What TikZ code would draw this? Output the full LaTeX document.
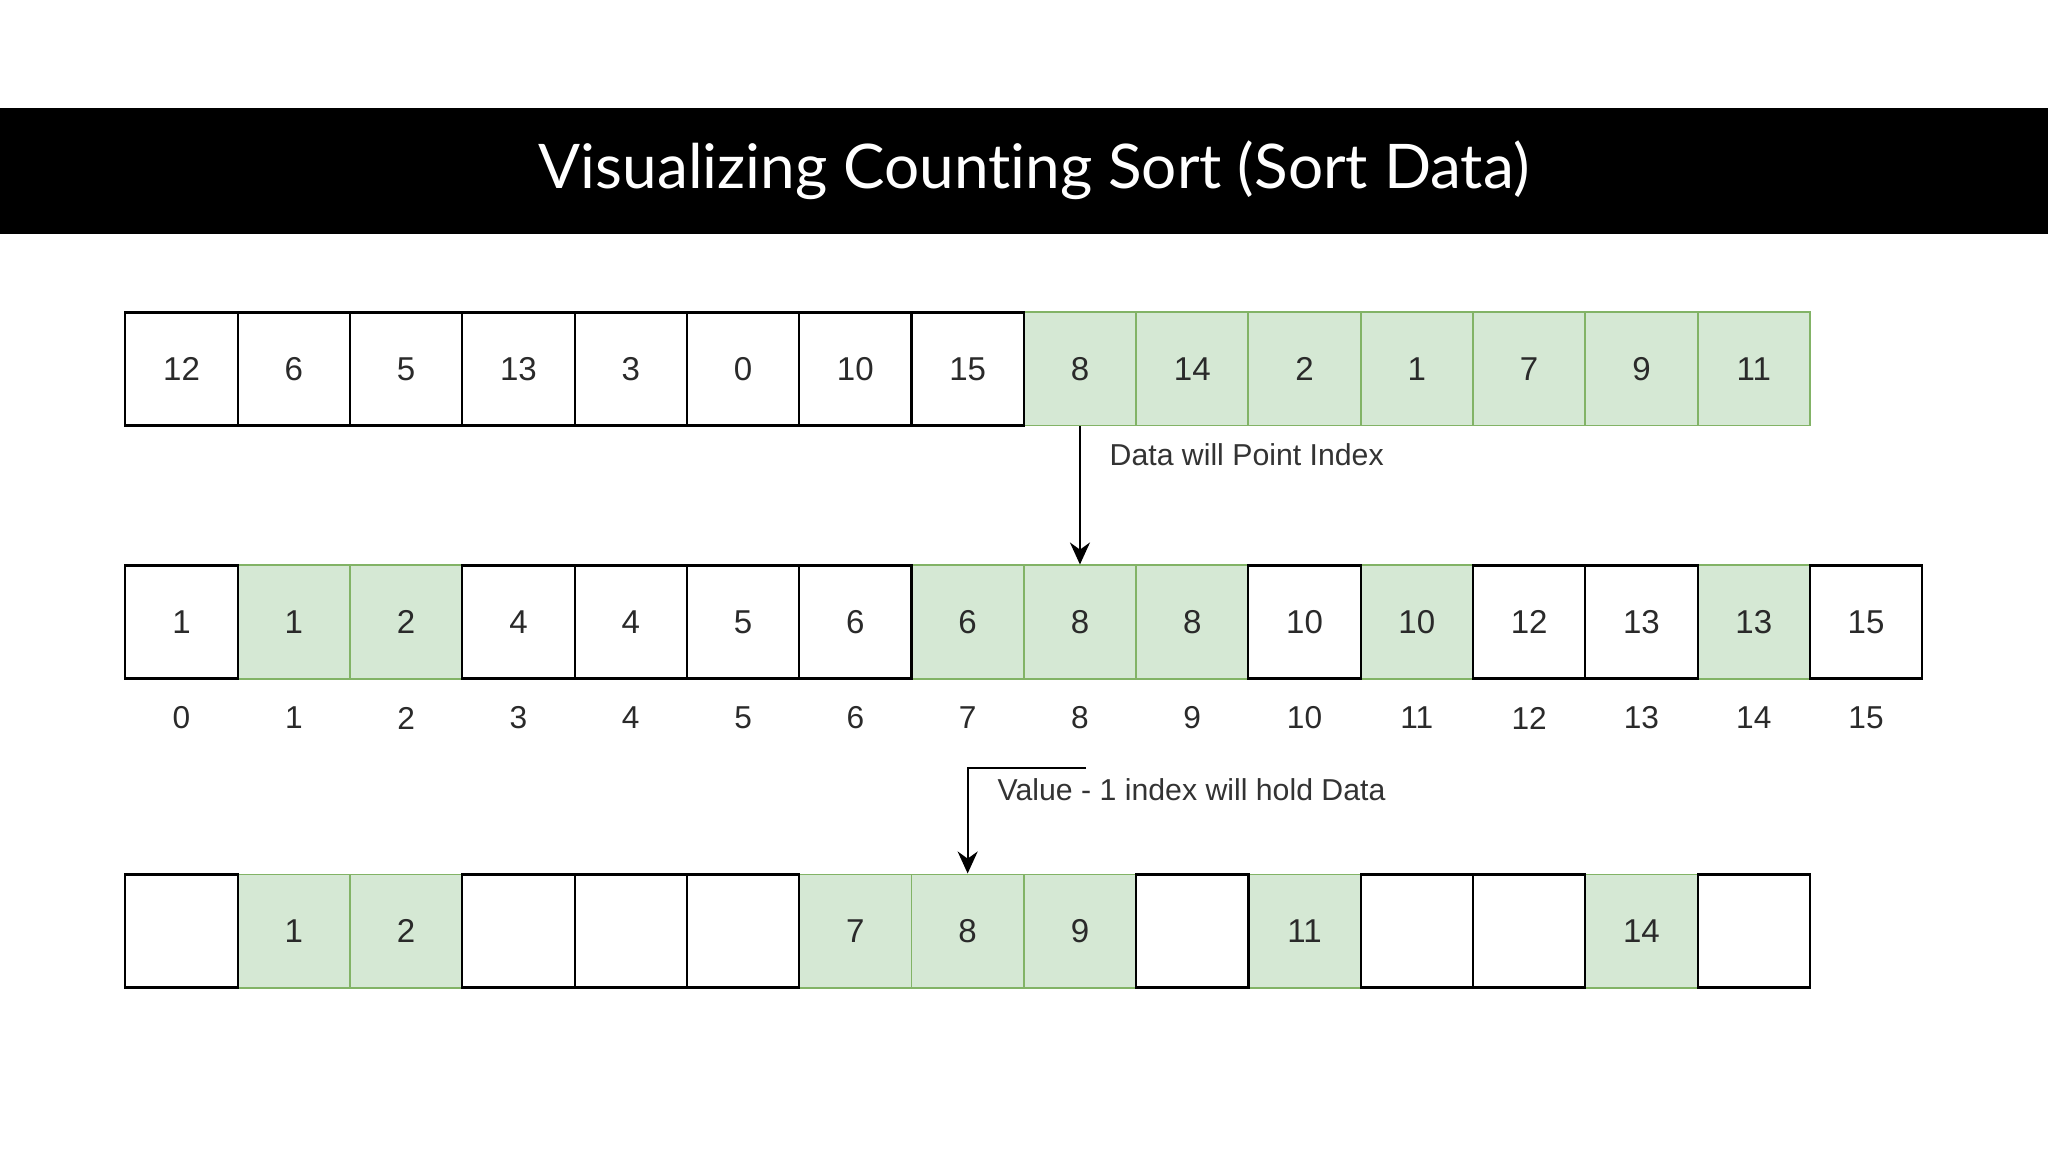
\documentclass[tikz,border=0pt]{standalone}
\usepackage{fontspec}
\setmainfont{Liberation Sans}
\newfontfamily\titlefont[Ligatures=NoCommon]{Lato}
\usetikzlibrary{arrows.meta}
\definecolor{gfill}{HTML}{D5E8D4}
\definecolor{gline}{HTML}{82B366}
\definecolor{txt}{HTML}{2A2A2A}
\definecolor{note}{HTML}{333333}
\tikzset{
  cellbase/.style={minimum width=1.123cm, minimum height=1.13cm, inner sep=0pt, anchor=center,
    font=\fontsize{9.4pt}{11pt}\selectfont, text=txt},
  whitecell/.style={cellbase, draw=black, fill=white, line width=0.6pt},
  greencell/.style={cellbase, draw=gline, fill=gfill, line width=0.55pt},
  idxlabel/.style={font=\fontsize{9pt}{11pt}\selectfont, text=txt, inner sep=0pt},
  notelabel/.style={font=\fontsize{8.6pt}{10pt}\selectfont, text=note, inner sep=0pt, anchor=west},
  conn/.style={line width=0.65pt, draw=black, -{Stealth[length=0.22cm, width=0.2cm]}}
}
\begin{document}
\begin{tikzpicture}[x=0.01cm, y=-0.01cm]
\useasboundingbox (0,0) rectangle (2048,1152);
\fill[white] (0,0) rectangle (2048,1152);
% title bar
\fill[black] (0,108) rectangle (2048,234);
\node[text=white, inner sep=0pt] (title) at (1034,170)
  {\resizebox{9.9cm}{\height}{\titlefont\fontsize{17.5pt}{20pt}\selectfont Visualizing Counting Sort (Sort Data)}};
% row 1
\foreach \v [count=\i from 0] in {12,6,5,13,3,0,10,15,8,14,2,1,7,9,11} {
  \ifnum\i>7
    \node[greencell] (r1c\i) at ({125.4+(\i+0.5)*112.3},369) {\v};
  \fi
}
\foreach \v [count=\i from 0] in {12,6,5,13,3,0,10,15} {
  \node[whitecell] (r1c\i) at ({125.4+(\i+0.5)*112.3},369) {\v};
}
% row 2
\foreach \v/\g [count=\i from 0] in {1/0,1/1,2/1,4/0,4/0,5/0,6/0,6/1,8/1,8/1,10/0,10/1,12/0,13/0,13/1,15/0} {
  \ifnum\g=1
    \node[greencell] (r2c\i) at ({125.4+(\i+0.5)*112.3},622) {\v};
  \fi
}
\foreach \v/\g [count=\i from 0] in {1/0,1/1,2/1,4/0,4/0,5/0,6/0,6/1,8/1,8/1,10/0,10/1,12/0,13/0,13/1,15/0} {
  \ifnum\g=0
    \node[whitecell] (r2c\i) at ({125.4+(\i+0.5)*112.3},622) {\v};
  \fi
}
% index labels
\foreach \i in {0,...,15} {
  \node[idxlabel] (idx\i) at ({125.4+(\i+0.5)*112.3},718) {\i};
}
% row 3
\foreach \v/\g [count=\i from 0] in {/0,1/1,2/1,/0,/0,/0,7/1,8/1,9/1,/0,11/1,/0,/0,14/1,/0} {
  \ifnum\g=1
    \node[greencell] (r3c\i) at ({125.4+(\i+0.5)*112.3},931) {\v};
  \fi
}
\foreach \v/\g [count=\i from 0] in {/0,1/1,2/1,/0,/0,/0,7/1,8/1,9/1,/0,11/1,/0,/0,14/1,/0} {
  \ifnum\g=0
    \node[whitecell] (r3c\i) at ({125.4+(\i+0.5)*112.3},931) {\v};
  \fi
}
% connectors
\draw[conn] (r1c8.south) -- (r2c8.north);
\node[notelabel] (note1) at (1109,455) {Data will Point Index};
\coordinate (a2s) at (1086,768);
\draw[conn] (a2s) -| (r3c7.north);
\node[notelabel] (note2) at (997,790) {Value - 1 index will hold Data};
\end{tikzpicture}
\end{document}
